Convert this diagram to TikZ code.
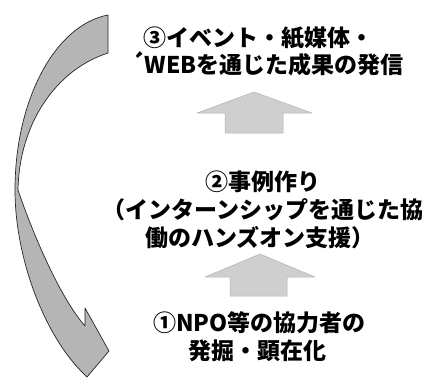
\documentclass[tikz,border=0pt]{standalone}
\usepackage{fontspec}
\newfontfamily\jp{Noto Sans CJK JP}
\begin{document}
\begin{tikzpicture}[x=1pt,y=-1pt,
  lbl/.style={anchor=west,inner sep=0pt,font=\jp\bfseries\fontsize{23}{26}\selectfont},
  bigarrow/.style={fill=gray!58,draw=gray!30!black,line width=0.7pt,line join=round},
  uparrow/.style={fill=gray!38,draw=gray!60,line width=0.5pt,line join=round}]
\useasboundingbox (0,0) rectangle (436,378);
% curved arrow
\draw[bigarrow] (108,15) .. controls (55,25) and (15,100) .. (15,190)
  .. controls (15,255) and (42,330) .. (80,370) -- (87,377) -- (109,351) -- (85,308) -- (85,326)
  .. controls (62,300) and (35,240) .. (18,190)
  .. controls (19,125) and (55,70) .. (108,53) -- cycle;
% up arrows
\draw[uparrow] (225,133) -- (225,113) -- (197,113) -- (254,92) -- (312,113) -- (283,113) -- (283,133) -- cycle;
\draw[uparrow] (230,296) -- (230,277) -- (205,277) -- (260,254) -- (315,277) -- (287,277) -- (287,296) -- cycle;
% texts
\node[lbl] (t3a) at (143,38) {③イベント・紙媒体・};
\node[lbl] (t3b) at (130,64) {´WEBを通じた成果の発信};
\node[lbl] (t2a) at (205,182) {②事例作り};
\node[lbl] (t2b) at (102,210) {（インターンシップを通じた協};
\node[lbl] (t2c) at (145,238) {働のハンズオン支援）};
\node[lbl] (t1a) at (153,323) {①NPO等の協力者の};
\node[lbl] (t1b) at (188,351) {発掘・顕在化};
\end{tikzpicture}
\end{document}
